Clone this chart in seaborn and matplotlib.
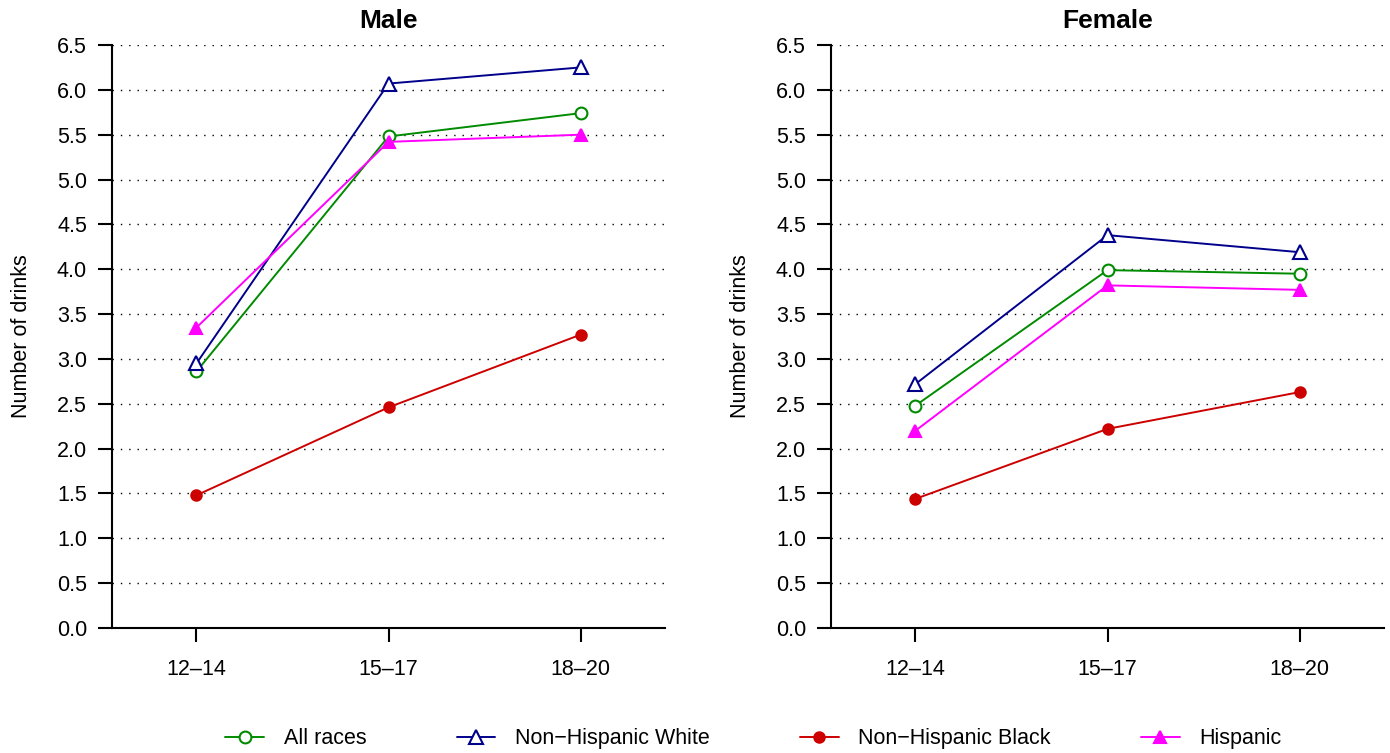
import pandas as pd
import seaborn as sns
import matplotlib.pyplot as plt

sns.set_theme(style="white")
plt.rcParams['font.family'] = ['Liberation Sans', 'DejaVu Sans']
plt.rcParams['text.color'] = 'black'
plt.rcParams['axes.labelcolor'] = 'black'

ages = ["12–14", "15–17", "18–20"]
groups = ["All races", "Non−Hispanic White", "Non−Hispanic Black", "Hispanic"]

male_all = [2.86, 5.48, 5.74]
male_white = [2.95, 6.07, 6.25]
male_black = [1.48, 2.46, 3.27]
male_hisp = [3.35, 5.42, 5.50]

female_all = [2.48, 3.99, 3.95]
female_white = [2.72, 4.38, 4.19]
female_black = [1.44, 2.22, 2.63]
female_hisp = [2.20, 3.82, 3.77]

colors = {"All races": "#008B00", "Non−Hispanic White": "#00008B",
          "Non−Hispanic Black": "#CD0000", "Hispanic": "#FF00FF"}
markers = {"All races": "o", "Non−Hispanic White": "^",
           "Non−Hispanic Black": "o", "Hispanic": "^"}
open_marker = {"All races": True, "Non−Hispanic White": True,
               "Non−Hispanic Black": False, "Hispanic": False}
msize = {"All races": 8.5, "Non−Hispanic White": 9.5,
         "Non−Hispanic Black": 7.5, "Hispanic": 9.0}


def long_table(series):
    rows = []
    for g, vals in zip(groups, series):
        for a, v in zip(ages, vals):
            rows.append({"age": a, "group": g, "drinks": v})
    return pd.DataFrame(rows)


male = long_table([male_all, male_white, male_black, male_hisp])
female = long_table([female_all, female_white, female_black, female_hisp])

fig = plt.figure(figsize=(13.9, 7.53), dpi=100)
ax1 = fig.add_axes([112 / 1390, 1 - 628 / 753, 553 / 1390, 583 / 753])
ax2 = fig.add_axes([831 / 1390, 1 - 628 / 753, 553 / 1390, 583 / 753])


def panel(ax, df, title):
    for g in groups:
        sub = df[df.group == g]
        c = colors[g]
        sns.lineplot(data=sub, x="age", y="drinks", ax=ax, color=c,
                     marker=markers[g], markersize=msize[g],
                     markerfacecolor="white" if open_marker[g] else c,
                     markeredgecolor=c, markeredgewidth=1.5,
                     linewidth=1.4, errorbar=None, label=g, zorder=3)
    ax.set_xlim(-0.44, 2.44)
    ax.set_ylim(0, 6.5)
    ax.set_yticks([i * 0.5 for i in range(14)])
    ax.set_yticklabels([f"{i * 0.5:.1f}" for i in range(14)])
    ax.yaxis.grid(True, color="black", linewidth=1.0,
                  linestyle=(0, (1, 5)))
    ax.xaxis.grid(False)
    ax.set_axisbelow(True)
    for s in ["top", "right"]:
        ax.spines[s].set_visible(False)
    for s in ["left", "bottom"]:
        ax.spines[s].set_color("black")
        ax.spines[s].set_linewidth(1.5)
    ax.tick_params(axis="both", which="major", direction="out", length=10,
                   width=1.5, color="black", labelsize=15.5, labelcolor="black",
                   left=True, bottom=True)
    ax.tick_params(axis="y", pad=8)
    ax.tick_params(axis="x", pad=12)
    ax.set_xlabel("")
    ax.set_ylabel("Number of drinks", fontsize=15.5, labelpad=18, color="black")
    ax.set_title(title, fontsize=19, fontweight="bold", pad=12, color="black")
    ax.get_legend().remove()


panel(ax1, male, "Male")
panel(ax2, female, "Female")

handles, labels = ax1.get_legend_handles_labels()
fig.legend(handles, labels, loc="center", bbox_to_anchor=(0.542, 0.019),
           ncol=4, frameon=False, fontsize=15.5, handlelength=1.8,
           handletextpad=0.9, columnspacing=4.2, labelcolor="black")

fig.savefig("out.png", dpi=100)
